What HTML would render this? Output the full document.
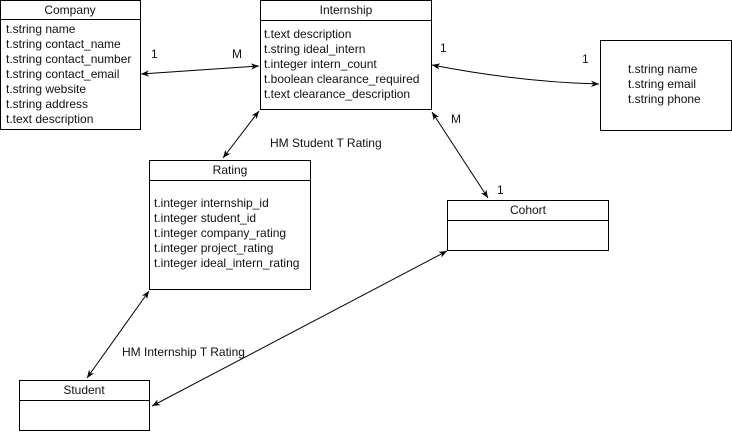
<!DOCTYPE html>
<html><head><meta charset="utf-8"><style>
html,body{margin:0;padding:0;background:#fff;}
svg{display:block;}
text{font-family:"Liberation Sans",Arial,sans-serif;font-size:12px;fill:#111;}
</style></head><body>
<svg width="732" height="434" xmlns="http://www.w3.org/2000/svg">
<defs>
<marker id="a" viewBox="0 0 10 10" refX="10" refY="5" markerWidth="8" markerHeight="8" orient="auto-start-reverse" markerUnits="userSpaceOnUse">
<path d="M0,1 L10,5 L0,9 L3,5 Z" fill="#000"/>
</marker>
</defs>
<g fill="#fff" stroke="#000" stroke-width="1">
<rect x="0.5" y="0.5" width="140" height="129"/><line x1="0.5" y1="19.5" x2="140.5" y2="19.5"/>
<rect x="260.5" y="0.5" width="171" height="109"/><line x1="260.5" y1="20.5" x2="431.5" y2="20.5"/>
<rect x="600.5" y="40.5" width="131" height="90"/>
<rect x="447.5" y="200.5" width="161" height="50"/><line x1="447.5" y1="220.5" x2="608.5" y2="220.5"/>
<rect x="149.5" y="160.5" width="161" height="129"/><line x1="149.5" y1="180.5" x2="310.5" y2="180.5"/>
<rect x="19.5" y="380.5" width="130" height="50"/><line x1="19.5" y1="400.5" x2="149.5" y2="400.5"/>
</g>
<g stroke="#000" stroke-width="1" fill="none" marker-start="url(#a)" marker-end="url(#a)">
<line x1="141" y1="74" x2="259" y2="66"/>
<path d="M432,65 Q520,82 599,84"/>
<line x1="432" y1="112" x2="488" y2="198"/>
<line x1="259" y1="111" x2="223" y2="158"/>
<line x1="149" y1="291" x2="87" y2="378"/>
<line x1="447" y1="251" x2="152" y2="406"/>
</g>
<text x="70" y="14" text-anchor="middle">Company</text>
<text x="6" y="33">t.string name</text>
<text x="6" y="48">t.string contact_name</text>
<text x="6" y="63">t.string contact_number</text>
<text x="6" y="78">t.string contact_email</text>
<text x="6" y="93">t.string website</text>
<text x="6" y="108">t.string address</text>
<text x="6" y="123">t.text description</text>
<text x="346" y="14" text-anchor="middle">Internship</text>
<text x="264" y="38">t.text description</text>
<text x="264" y="53">t.string ideal_intern</text>
<text x="264" y="68">t.integer intern_count</text>
<text x="264" y="83">t.boolean clearance_required</text>
<text x="264" y="98">t.text clearance_description</text>
<text x="628" y="73">t.string name</text>
<text x="628" y="88">t.string email</text>
<text x="628" y="103">t.string phone</text>
<text x="528" y="214" text-anchor="middle">Cohort</text>
<text x="230" y="174" text-anchor="middle">Rating</text>
<text x="154" y="207">t.integer internship_id</text>
<text x="154" y="222">t.integer student_id</text>
<text x="154" y="237">t.integer company_rating</text>
<text x="154" y="252">t.integer project_rating</text>
<text x="154" y="267">t.integer ideal_intern_rating</text>
<text x="84" y="394" text-anchor="middle">Student</text>
<text x="151" y="58">1</text>
<text x="232" y="58">M</text>
<text x="440" y="52">1</text>
<text x="582" y="63">1</text>
<text x="451" y="123">M</text>
<text x="497" y="194">1</text>
<text x="270" y="147">HM Student T Rating</text>
<text x="122" y="356">HM Internship T Rating</text>
</svg>
</body></html>
